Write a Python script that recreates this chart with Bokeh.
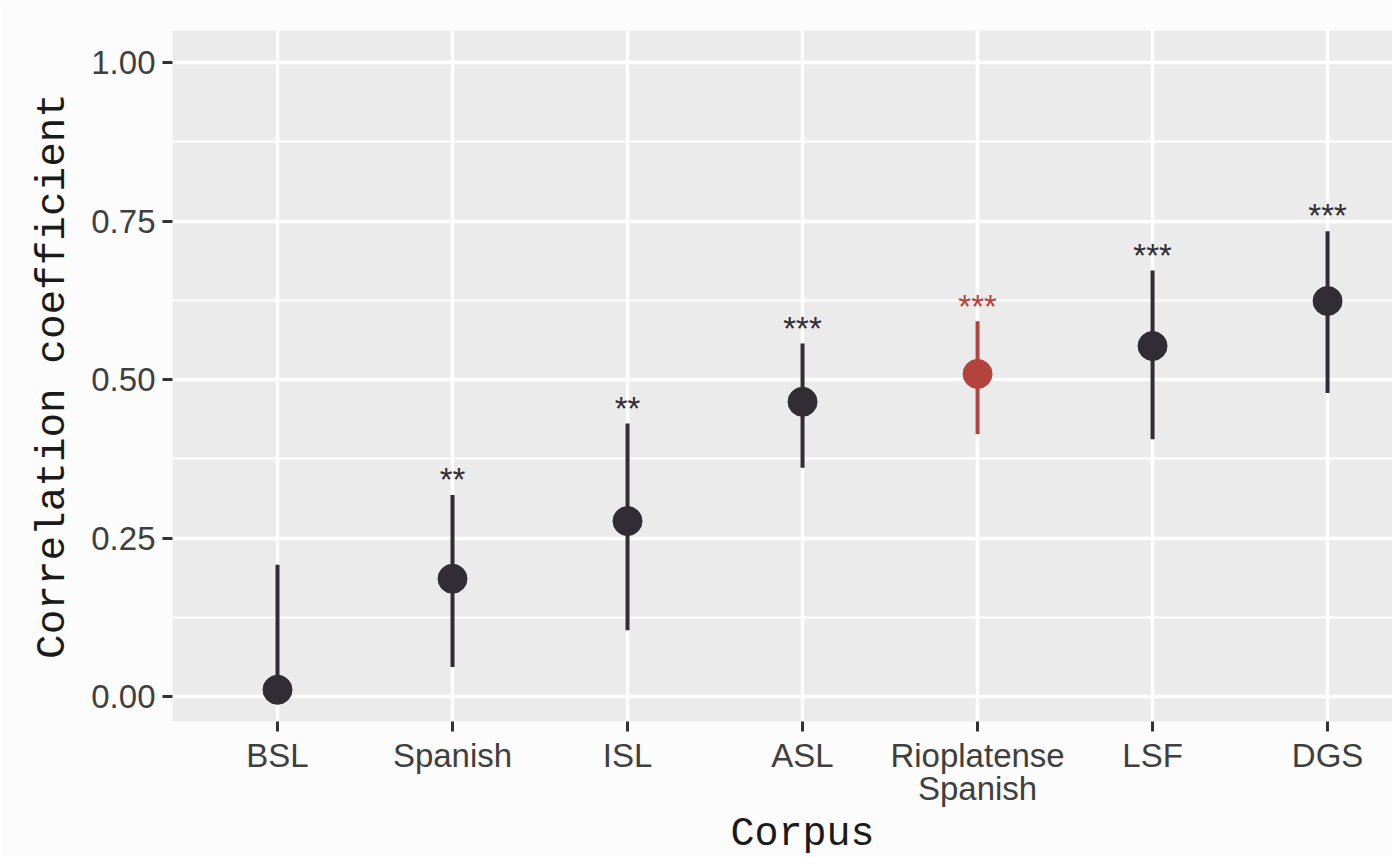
from bokeh.plotting import figure
from bokeh.models import FixedTicker, ColumnDataSource, Range1d, Title
from bokeh.core.properties import value
from bokeh.embed import file_html
from bokeh.resources import INLINE

# ---- data ----
categories = ["BSL", "Spanish", "ISL", "ASL", "Rioplatense\nSpanish", "LSF", "DGS"]
estimate = [0.011, 0.186, 0.277, 0.465, 0.509, 0.553, 0.624]
ci_lower = [-0.01, 0.047, 0.105, 0.361, 0.414, 0.406, 0.479]
ci_upper = [0.208, 0.318, 0.431, 0.557, 0.592, 0.672, 0.734]
significance = ["", "**", "**", "***", "***", "***", "***"]
highlight = [False, False, False, False, True, False, False]
y_ticks = [0.0, 0.25, 0.5, 0.75, 1.0]
y_tick_labels = ["0.00", "0.25", "0.50", "0.75", "1.00"]
y_minor = [0.125, 0.375, 0.625, 0.875]

DARK = "#322D35"
RED = "#B4433E"
colors = [RED if h else DARK for h in highlight]
xs = list(range(1, len(categories) + 1))
label_y = [u + 0.024 for u in ci_upper]

src = ColumnDataSource(dict(x=xs, est=estimate, lo=ci_lower, hi=ci_upper,
                            sig=significance, c=colors, ly=label_y))

p = figure(width=1392, height=856, output_backend="svg", toolbar_location=None,
           x_range=Range1d(0.4, 7.371), y_range=Range1d(-0.039, 1.0504),
           min_border_left=172, min_border_right=0, min_border_top=30,
           min_border_bottom=0)
p.background_fill_color = "#EBEBEB"
p.border_fill_color = "#FCFCFC"
p.outline_line_color = None

p.segment(x0="x", y0="lo", x1="x", y1="hi", line_color="c", line_width=4, source=src)
p.scatter(x="x", y="est", size=29, fill_color="c", line_color="c", source=src)
p.text(x="x", y="ly", text="sig", text_color="c", text_font=value("Liberation Sans"),
       text_font_size="33px", text_align="center", text_baseline="alphabetic", source=src)

# axes
p.xaxis.ticker = FixedTicker(ticks=xs)
p.xaxis.major_label_overrides = {x: c for x, c in zip(xs, categories)}
p.yaxis.ticker = FixedTicker(ticks=y_ticks, minor_ticks=y_minor)
p.yaxis.major_label_overrides = {t: l for t, l in zip(y_ticks, y_tick_labels)}
for ax in (p.xaxis, p.yaxis):
    ax.axis_line_color = None
    ax.major_tick_line_color = "#333333"
    ax.major_tick_line_width = 3
    ax.major_tick_out = 10
    ax.major_tick_in = 0
    ax.minor_tick_line_color = None
    ax.major_label_text_font = "Liberation Sans"
    ax.major_label_text_font_size = "33px"
    ax.major_label_text_color = "#3F3F3F"
    ax.major_label_standoff = 7
    ax.axis_label_text_font = "Liberation Mono"
    ax.axis_label_text_font_size = "41px"
    ax.axis_label_text_font_style = "normal"
    ax.axis_label_text_color = "#1A1A1A"

p.yaxis.axis_label = "Correlation coefficient"
p.yaxis.axis_label_standoff = 12
p.xaxis.major_label_standoff = 5
p.xaxis.major_label_text_line_height = 0.9

p.xgrid.grid_line_color = "white"
p.xgrid.grid_line_width = 3.5
p.ygrid.grid_line_color = "white"
p.ygrid.grid_line_width = 3.5
p.ygrid.minor_grid_line_color = "white"
p.ygrid.minor_grid_line_width = 2

# x axis title, centred on the full (clipped) panel
p.add_layout(Title(text="Corpus", align="left", offset=558, standoff=0,
                   text_font="Liberation Mono", text_font_size="40px",
                   text_line_height=0.8,
                   text_font_style="normal", text_color="#1A1A1A"), "below")

open("out.html", "w").write(file_html(p, INLINE))
